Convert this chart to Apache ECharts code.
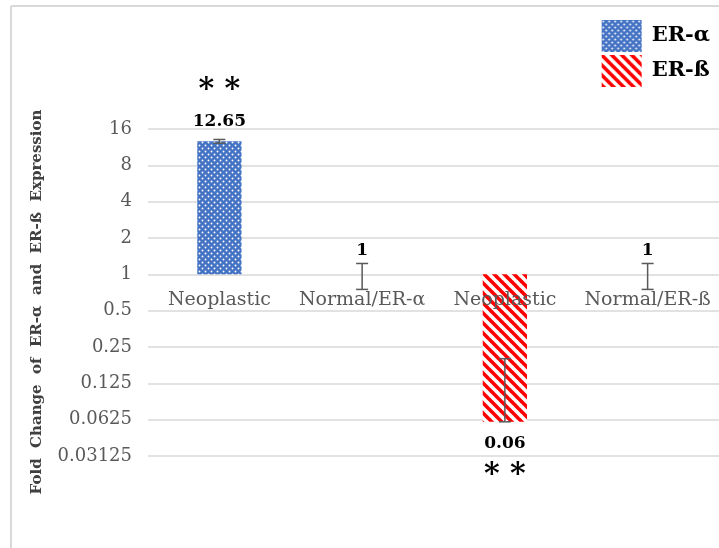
<!DOCTYPE html>
<html>
<head>
<meta charset="utf-8">
<title>Fold Change of ER-α and ER-ß Expression</title>
<script src="https://cdn.jsdelivr.net/npm/echarts@6/dist/echarts.min.js"></script>
<style>
  html, body { margin: 0; padding: 0; background: #ffffff; }
  #chart { width: 719px; height: 548px; }
</style>
</head>
<body>
<div id="chart"></div>
<script>
// Groups along the x axis
const categories = ['Neoplastic', 'Normal/ER-α', 'Neoplastic', 'Normal/ER-ß'];

// Fold change per group (null = no bar for that series)
const erAlpha = [12.65, 1, null, null];
const erBeta = [null, null, 0.06, 1];

// Error bar ranges [low, high] per group
const errLow = [12.2, 0.75, 0.06, 0.75];
const errHigh = [13.1, 1.23, 0.2, 1.23];

// Significance markers per group
const significance = ['* *', '', '* *', ''];

// Tick values of the log2 axis
const yTicks = [0.03125, 0.0625, 0.125, 0.25, 0.5, 1, 2, 4, 8, 16];

const yTitle = 'Fold  Change  of  ER-α  and  ER-ß  Expression';

const SERIF = '"DejaVu Serif", "Liberation Serif", serif';

// Blue fill with a staggered white dot pattern
function dotPattern() {
  const c = document.createElement('canvas');
  c.width = 6; c.height = 6;
  const ctx = c.getContext('2d');
  ctx.fillStyle = '#4472C4';
  ctx.fillRect(0, 0, 6, 6);
  ctx.fillStyle = '#ffffff';
  [[1.5, 1.5], [4.5, 4.5]].forEach(function (p) {
    ctx.beginPath();
    ctx.arc(p[0], p[1], 0.95, 0, Math.PI * 2);
    ctx.fill();
  });
  return { image: c, repeat: 'repeat' };
}

// White fill with red diagonal stripes running top-left to bottom-right
function stripePattern() {
  const s = 10;
  const c = document.createElement('canvas');
  c.width = s; c.height = s;
  const ctx = c.getContext('2d');
  ctx.fillStyle = '#ffffff';
  ctx.fillRect(0, 0, s, s);
  ctx.strokeStyle = '#ff0000';
  ctx.lineWidth = 3.6;
  for (let k = -1; k <= 1; k++) {
    ctx.beginPath();
    ctx.moveTo(k * s - 1, -1);
    ctx.lineTo(k * s + s + 1, s + 1);
    ctx.stroke();
  }
  return { image: c, repeat: 'repeat' };
}

const alphaFill = dotPattern();
const betaFill = stripePattern();

function fmtNum(v) { return String(+(+v).toPrecision(6)); }

function barData(values) {
  return values.map(function (v, i) {
    if (v === null) return '-';
    const item = { value: v };
    if (v < 1) {
      item.label = {
        position: 'bottom', distance: 10,
        formatter: significance[i] ? '{v|' + fmtNum(v) + '}\n{s|' + significance[i] + '}' : '{v|' + fmtNum(v) + '}'
      };
    } else {
      item.label = {
        position: 'top', distance: v === 1 ? 12 : 8,
        formatter: significance[i] ? '{s|' + significance[i] + '}\n{v|' + fmtNum(v) + '}' : '{v|' + fmtNum(v) + '}'
      };
    }
    return item;
  });
}

const labelRich = {
  v: { fontFamily: SERIF, fontWeight: 'bold', fontSize: 17, color: '#000000', lineHeight: 24 },
  s: { fontFamily: SERIF, fontWeight: 'bold', fontSize: 30, color: '#000000', lineHeight: 38 }
};

const errData = categories.map(function (c, i) { return [i, errLow[i], errHigh[i]]; });

const chart = echarts.init(document.getElementById('chart'), null, { renderer: 'canvas' });

chart.setOption({
  animation: false,
  backgroundColor: '#ffffff',
  graphic: [
    { type: 'line', shape: { x1: 11, y1: 6, x2: 719, y2: 6 }, style: { stroke: '#d9d9d9', lineWidth: 2 }, silent: true },
    { type: 'line', shape: { x1: 11, y1: 6, x2: 11, y2: 548 }, style: { stroke: '#d9d9d9', lineWidth: 2 }, silent: true },
    {
      type: 'text', x: 37, y: 302, rotation: Math.PI / 2, silent: true,
      style: {
        text: yTitle, fontFamily: SERIF, fontWeight: 'bold', fontSize: 15,
        fill: '#404040', align: 'center', verticalAlign: 'middle'
      }
    }
  ],
  legend: {
    orient: 'vertical',
    right: 4,
    top: 15,
    itemWidth: 40,
    itemHeight: 32,
    itemGap: 3,
    icon: 'rect',
    textStyle: { fontFamily: SERIF, fontWeight: 'bold', fontSize: 21, color: '#000000', padding: [0, 0, 0, 5] },
    data: ['ER-α', 'ER-ß']
  },
  grid: { left: 148, right: 0, top: 129, bottom: 92 },
  xAxis: {
    type: 'category',
    data: categories,
    offset: -182,
    z: 10,
    axisLine: { show: false },
    axisTick: { show: false },
    axisLabel: {
      interval: 0,
      margin: 17,
      fontFamily: SERIF,
      fontSize: 19,
      color: '#595959'
    }
  },
  yAxis: {
    type: 'log',
    logBase: 2,
    min: 0.03125,
    max: 16,
    splitNumber: 9,
    axisLine: { show: false },
    axisTick: { show: false },
    splitLine: { lineStyle: { color: '#d9d9d9', width: 1.5 } },
    axisLabel: {
      margin: 16,
      fontFamily: SERIF,
      fontSize: 18,
      color: '#595959',
      formatter: function (v) { return fmtNum(v); }
    }
  },
  series: [
    {
      name: 'ER-α',
      type: 'bar',
      barWidth: '31%',
      barGap: '-100%',
      itemStyle: { color: alphaFill },
      label: { show: true, rich: labelRich },
      data: barData(erAlpha)
    },
    {
      name: 'ER-ß',
      type: 'bar',
      barWidth: '31%',
      barGap: '-100%',
      itemStyle: { color: betaFill },
      label: { show: true, rich: labelRich },
      data: barData(erBeta)
    },
    {
      name: 'error',
      type: 'custom',
      z: 5,
      silent: true,
      data: errData,
      encode: { x: 0, y: [1, 2] },
      renderItem: function (params, api) {
        const x = api.value(0);
        const top = api.coord([x, api.value(2)]);
        const bot = api.coord([x, api.value(1)]);
        const hw = 6;
        const st = { stroke: '#595959', lineWidth: 1.5 };
        return {
          type: 'group',
          children: [
            { type: 'line', shape: { x1: top[0], y1: top[1], x2: bot[0], y2: bot[1] }, style: st },
            { type: 'line', shape: { x1: top[0] - hw, y1: top[1], x2: top[0] + hw, y2: top[1] }, style: st },
            { type: 'line', shape: { x1: bot[0] - hw, y1: bot[1], x2: bot[0] + hw, y2: bot[1] }, style: st }
          ]
        };
      }
    }
  ]
});
</script>
</body>
</html>
